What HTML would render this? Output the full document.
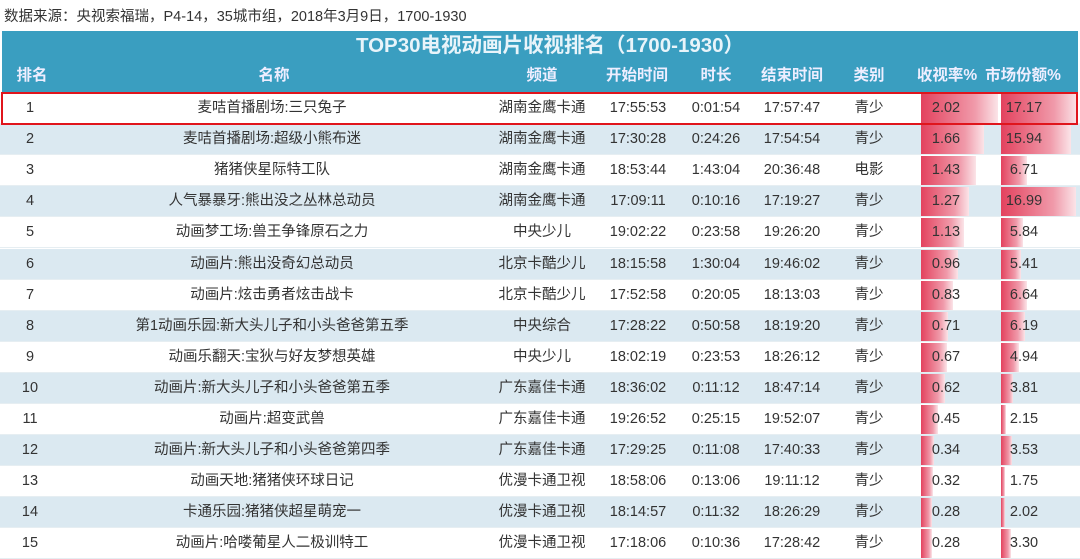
<!DOCTYPE html>
<html><head><meta charset="utf-8"><style>
body{margin:0;width:1080px;height:559px;overflow:hidden;background:#fff;font-family:"Liberation Sans","Noto Sans CJK SC",sans-serif;position:relative}
.a{position:absolute}
.c{position:absolute;transform:translateX(-50%);white-space:nowrap}
.row{position:absolute;left:0;width:1080px;height:31px;font-size:14.5px;color:#333;line-height:31px;border-bottom:1px solid #e6eef2;box-sizing:border-box}
.row.alt{background:#dbe9f1}
.bar{position:absolute;top:1px;height:29px;background:linear-gradient(90deg,#e3425e,#f09aaa 70%,#fbe4e8)}
.hd{position:absolute;top:60px;left:2px;width:1076px;height:32px;background:#3a9ec0;color:#eef;font-weight:bold;font-size:15.5px;line-height:32px}
</style></head><body>
<div class="a" style="left:4px;top:5px;font-size:14.5px;color:#333">数据来源：央视索福瑞，P4-14，35城市组，2018年3月9日，1700-1930</div>
<div class="a" style="left:2px;top:31px;width:1076px;height:29px;background:#3a9ec0;color:#e8f4fa;font-weight:bold;font-size:20.5px;line-height:30px;text-align:center;padding-left:20px;box-sizing:border-box">TOP30电视动画片收视排名（1700-1930）</div>
<div class="hd">
<span class="c" style="left:30px">排名</span><span class="c" style="left:272px">名称</span><span class="c" style="left:540px">频道</span><span class="c" style="left:635px">开始时间</span><span class="c" style="left:714px">时长</span><span class="c" style="left:790px">结束时间</span><span class="c" style="left:867px">类别</span><span class="c" style="left:945px">收视率%</span><span class="c" style="left:1021px">市场份额%</span>
</div>
<div id="rows"></div>
<script>
var d=[["1","麦咭首播剧场:三只兔子","湖南金鹰卡通","17:55:53","0:01:54","17:57:47","青少","2.02","17.17"],
["2","麦咭首播剧场:超级小熊布迷","湖南金鹰卡通","17:30:28","0:24:26","17:54:54","青少","1.66","15.94"],
["3","猪猪侠星际特工队","湖南金鹰卡通","18:53:44","1:43:04","20:36:48","电影","1.43","6.71"],
["4","人气暴暴牙:熊出没之丛林总动员","湖南金鹰卡通","17:09:11","0:10:16","17:19:27","青少","1.27","16.99"],
["5","动画梦工场:兽王争锋原石之力","中央少儿","19:02:22","0:23:58","19:26:20","青少","1.13","5.84"],
["6","动画片:熊出没奇幻总动员","北京卡酷少儿","18:15:58","1:30:04","19:46:02","青少","0.96","5.41"],
["7","动画片:炫击勇者炫击战卡","北京卡酷少儿","17:52:58","0:20:05","18:13:03","青少","0.83","6.64"],
["8","第1动画乐园:新大头儿子和小头爸爸第五季","中央综合","17:28:22","0:50:58","18:19:20","青少","0.71","6.19"],
["9","动画乐翻天:宝狄与好友梦想英雄","中央少儿","18:02:19","0:23:53","18:26:12","青少","0.67","4.94"],
["10","动画片:新大头儿子和小头爸爸第五季","广东嘉佳卡通","18:36:02","0:11:12","18:47:14","青少","0.62","3.81"],
["11","动画片:超变武兽","广东嘉佳卡通","19:26:52","0:25:15","19:52:07","青少","0.45","2.15"],
["12","动画片:新大头儿子和小头爸爸第四季","广东嘉佳卡通","17:29:25","0:11:08","17:40:33","青少","0.34","3.53"],
["13","动画天地:猪猪侠环球日记","优漫卡通卫视","18:58:06","0:13:06","19:11:12","青少","0.32","1.75"],
["14","卡通乐园:猪猪侠超星萌宠一","优漫卡通卫视","18:14:57","0:11:32","18:26:29","青少","0.28","2.02"],
["15","动画片:哈喽葡星人二极训特工","优漫卡通卫视","17:18:06","0:10:36","17:28:42","青少","0.28","3.30"]];
var h="";
d.forEach(function(r,i){
var top=93+i*31.1;
var rw=Math.round(77*parseFloat(r[7])/2.02);
var sv=parseFloat(r[8]);var sw=Math.round(76*Math.max(0.05,(sv-1.2)/(17.17-1.2)));
h+='<div class="row'+(i%2?' alt':'')+'" style="top:'+top+'px">'+
'<div class="bar" style="left:921px;width:'+rw+'px"></div><div class="bar" style="left:1001px;width:'+sw+'px"></div>'+
'<span class="c" style="left:30px">'+r[0]+'</span><span class="c" style="left:272px">'+r[1]+'</span><span class="c" style="left:542px">'+r[2]+'</span><span class="c" style="left:638px">'+r[3]+'</span><span class="c" style="left:716px">'+r[4]+'</span><span class="c" style="left:792px">'+r[5]+'</span><span class="c" style="left:869px">'+r[6]+'</span><span class="c" style="left:946px">'+r[7]+'</span><span class="c" style="left:1024px">'+r[8]+'</span></div>';
});
h+='<div class="a" style="left:1px;top:92px;width:1073px;height:29px;border:2.5px solid #e0151c"></div>';
document.getElementById("rows").innerHTML=h;
</script>
</body></html>
